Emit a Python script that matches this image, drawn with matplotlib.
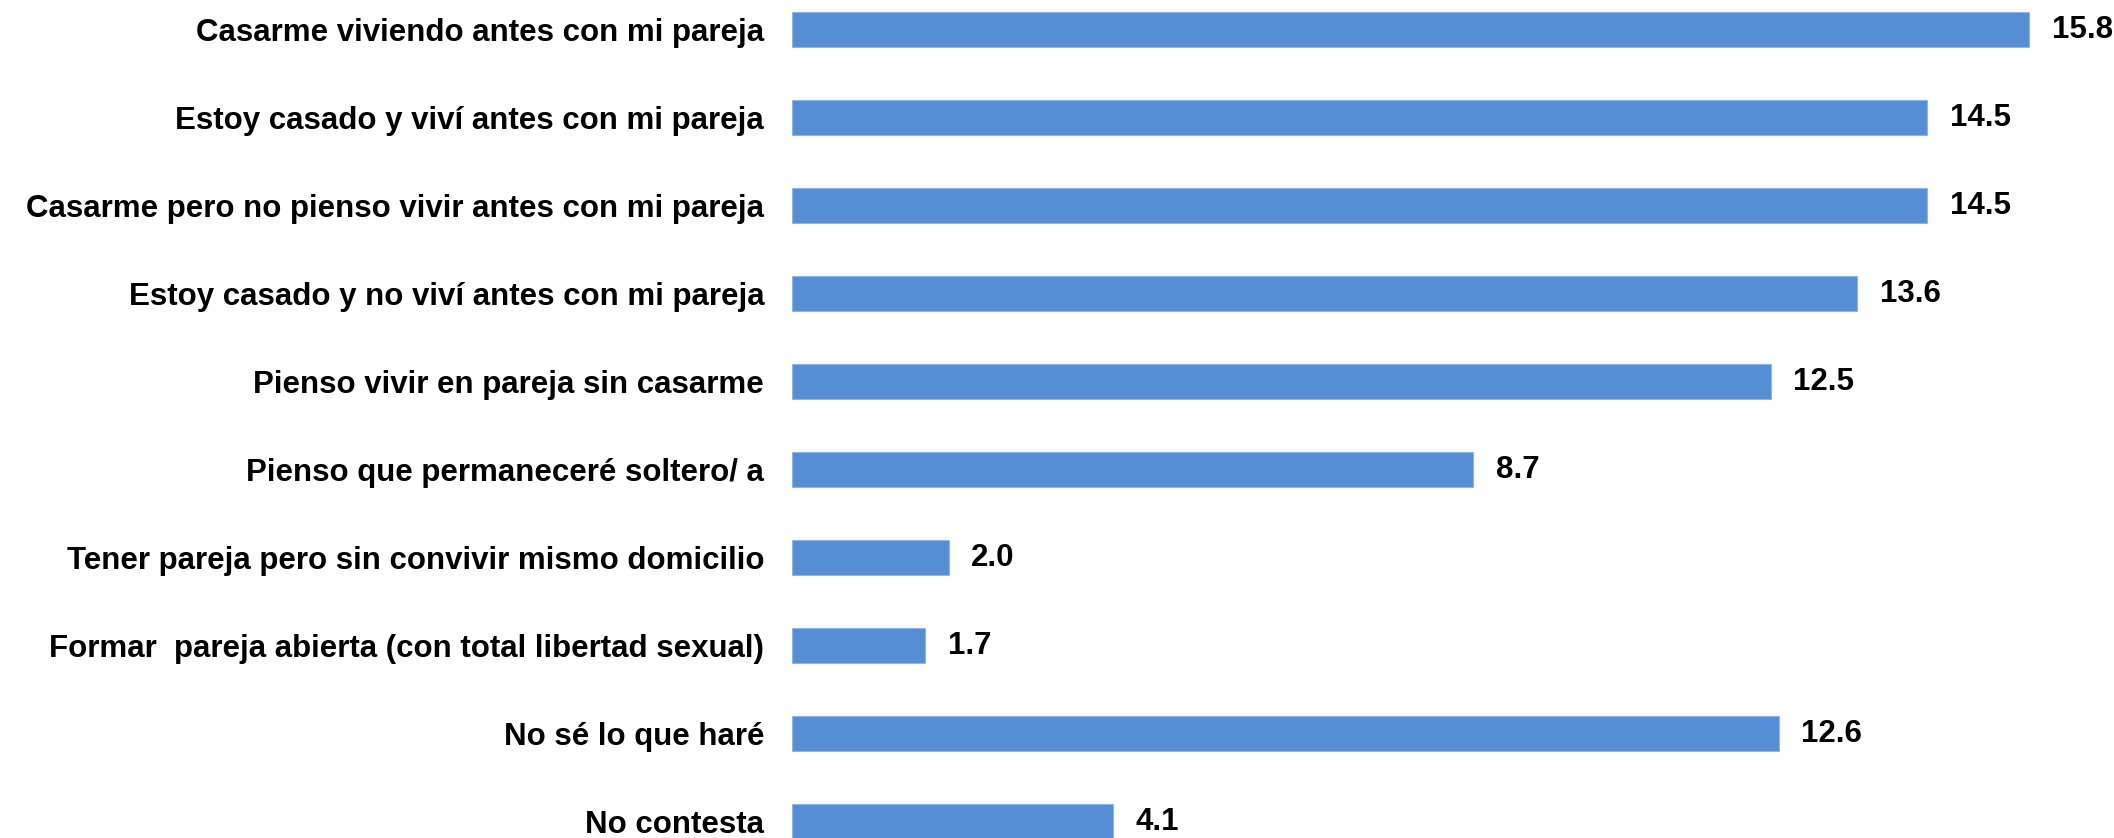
import matplotlib
matplotlib.use("Agg")
import matplotlib.pyplot as plt
import numpy as np

categories = [
    "Casarme viviendo antes con mi pareja",
    "Estoy casado y viví antes con mi pareja",
    "Casarme pero no pienso vivir antes con mi pareja",
    "Estoy casado y no viví antes con mi pareja",
    "Pienso vivir en pareja sin casarme",
    "Pienso que permaneceré soltero/ a",
    "Tener pareja pero sin convivir mismo domicilio",
    "Formar  pareja abierta (con total libertad sexual)",
    "No sé lo que haré",
    "No contesta",
]
values = [15.8, 14.5, 14.5, 13.6, 12.5, 8.7, 2.0, 1.7, 12.6, 4.1]

BAR_COLOR = "#558ed5"

plt.rcParams["font.family"] = ["Liberation Sans", "DejaVu Sans"]

fig = plt.figure(figsize=(21.14, 8.38), dpi=100)
ax = fig.add_axes([792/2114, 0.0, 1 - 792/2114, 1.0])

y = np.arange(len(categories))
ax.barh(y, values, height=0.4, color=BAR_COLOR, edgecolor="#8fb4e3", linewidth=0.8)

for yi, v in zip(y, values):
    ax.text(v + 0.29, yi, "%.1f" % v, va="center", ha="left",
            fontsize=22.5, fontweight="bold", color="black")

ax.set_xlim(0, 1322/78.3)
ax.set_ylim(9 + 16.5/88, -29.5/88)
ax.set_yticks(y)
ax.set_yticklabels(categories, fontsize=22.5, fontweight="bold")
ax.tick_params(axis="y", length=0, pad=20)
ax.set_xticks([])
for s in ax.spines.values():
    s.set_visible(False)

fig.savefig("out.png", dpi=100)
